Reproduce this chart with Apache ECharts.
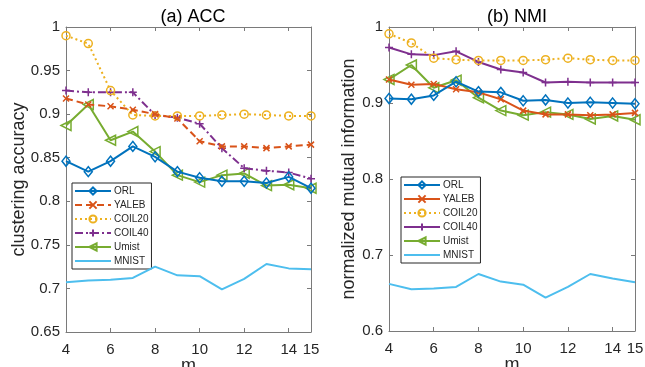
<!DOCTYPE html>
<html>
<head>
<meta charset="utf-8">
<script src="https://cdn.jsdelivr.net/npm/echarts@6/dist/echarts.min.js"></script>
<style>
  html, body { margin: 0; padding: 0; background: #fff; }
  #chart { width: 645px; height: 367px; }
</style>
</head>
<body>
<div id="chart"></div>
<script>
// m values (x axis)
const mValues = [4, 5, 6, 7, 8, 9, 10, 11, 12, 13, 14, 15];

// (a) ACC
const accORL    = [0.846, 0.834, 0.846, 0.863, 0.851, 0.834, 0.827, 0.823, 0.823, 0.821, 0.828, 0.815];
const accYALEB  = [0.918, 0.911, 0.909, 0.905, 0.900, 0.895, 0.869, 0.863, 0.863, 0.861, 0.863, 0.865];
const accCOIL20 = [0.990, 0.981, 0.927, 0.899, 0.898, 0.898, 0.898, 0.899, 0.900, 0.899, 0.898, 0.898];
const accCOIL40 = [0.927, 0.925, 0.925, 0.925, 0.899, 0.896, 0.889, 0.861, 0.838, 0.835, 0.833, 0.826];
const accUmist  = [0.887, 0.911, 0.870, 0.880, 0.857, 0.830, 0.822, 0.830, 0.832, 0.818, 0.819, 0.815];
const accMNIST  = [0.707, 0.709, 0.710, 0.712, 0.725, 0.715, 0.714, 0.699, 0.711, 0.728, 0.723, 0.722];

// (b) NMI
const nmiORL    = [0.906, 0.905, 0.910, 0.928, 0.915, 0.914, 0.903, 0.904, 0.900, 0.901, 0.900, 0.899];
const nmiYALEB  = [0.931, 0.924, 0.925, 0.918, 0.914, 0.905, 0.890, 0.885, 0.885, 0.884, 0.885, 0.887];
const nmiCOIL20 = [0.991, 0.979, 0.959, 0.957, 0.956, 0.956, 0.956, 0.957, 0.959, 0.957, 0.956, 0.956];
const nmiCOIL40 = [0.973, 0.964, 0.963, 0.968, 0.954, 0.944, 0.940, 0.927, 0.928, 0.927, 0.927, 0.927];
const nmiUmist  = [0.931, 0.950, 0.920, 0.930, 0.907, 0.890, 0.884, 0.888, 0.885, 0.879, 0.883, 0.878];
const nmiMNIST  = [0.662, 0.655, 0.656, 0.658, 0.675, 0.665, 0.661, 0.644, 0.658, 0.675, 0.669, 0.664];

const names = ['ORL', 'YALEB', 'COIL20', 'COIL40', 'Umist', 'MNIST'];
const colors = ['#0072BD', '#D95319', '#EDB120', '#7E2F8E', '#77AC30', '#4DBEEE'];

const PLUS = 'path://M0,5L10,5M5,0L5,10';
const CROSS = 'path://M0,0L10,10M0,10L10,0';

// marker per dataset
const markers = [
  { symbol: 'diamond', size: [8, 10], rotate: 0 },
  { symbol: CROSS, size: 6, rotate: 0 },
  { symbol: 'circle', size: 8, rotate: 0 },
  { symbol: PLUS, size: 8, rotate: 0 },
  { symbol: 'triangle', size: 10, rotate: 90 },
  { symbol: 'none', size: 0, rotate: 0 }
];
const accDash = ['solid', [7, 4], [2, 3], [8, 3, 2, 3], 'solid', 'solid'];
const nmiDash = ['solid', 'solid', [2, 3], 'solid', 'solid', 'solid'];

const axisColor = '#7a7a7a';
const textColor = '#262626';
const font = 'Liberation Sans, Arial, sans-serif';

function pairs(ys) { return mValues.map((m, i) => [m, ys[i]]); }

function makeSeries(lists, dashes, xi, yi) {
  return lists.map((ys, k) => ({
    name: names[k],
    type: 'line',
    xAxisIndex: xi,
    yAxisIndex: yi,
    data: pairs(ys),
    symbol: markers[k].symbol,
    symbolSize: markers[k].size,
    symbolRotate: markers[k].rotate,
    showSymbol: markers[k].symbol !== 'none',
    lineStyle: { color: colors[k], width: 2, type: dashes[k] },
    itemStyle: { color: 'rgba(255,255,255,0)', borderColor: colors[k], borderWidth: 1.5 },
    emphasis: { disabled: true },
    z: 10 - k
  }));
}

function xAxisPair(gi) {
  const base = { type: 'value', gridIndex: gi, min: 4, max: 15, interval: 2,
    splitLine: { show: false },
    axisLine: { show: true, lineStyle: { color: axisColor, width: 1 } },
    axisTick: { inside: true, length: 4, lineStyle: { color: axisColor } } };
  return [
    Object.assign({}, base, { position: 'bottom',
      name: 'm', nameLocation: 'middle', nameGap: 25, nameMoveOverlap: false,
      nameTextStyle: { color: textColor, fontSize: 18, fontFamily: font },
      axisLabel: { color: textColor, fontSize: 15, fontFamily: font, margin: 10, showMaxLabel: true, showMinLabel: true } }),
    Object.assign({}, base, { position: 'top', axisLabel: { show: false } })
  ];
}

function yAxisPair(gi, min, max, step, name, gap) {
  const base = { type: 'value', gridIndex: gi, min: min, max: max, interval: step,
    splitLine: { show: false },
    axisLine: { show: true, lineStyle: { color: axisColor, width: 1 } },
    axisTick: { inside: true, length: 4, lineStyle: { color: axisColor } } };
  return [
    Object.assign({}, base, { position: 'left',
      name: name, nameLocation: 'middle', nameGap: gap, nameMoveOverlap: false,
      nameTextStyle: { color: textColor, fontSize: 18, fontFamily: font },
      axisLabel: { color: textColor, fontSize: 15, fontFamily: font, margin: 6 } }),
    Object.assign({}, base, { position: 'right', axisLabel: { show: false } })
  ];
}

const hideMarker = { itemStyle: { color: 'rgba(0,0,0,0)', borderColor: 'rgba(0,0,0,0)', borderWidth: 0 } };

function legendFor(left, top, overrides) {
  return {
    left: left, top: top, orient: 'vertical',
    itemWidth: 36, itemHeight: 9, itemGap: 4,
    padding: [3, 3, 3, 2],
    borderColor: '#262626', borderWidth: 1, backgroundColor: '#fff',
    selectedMode: false,
    textStyle: { color: textColor, fontSize: 10, fontFamily: font, padding: [0, 0, 0, -2] },
    data: names.map((n, k) => overrides[k] ? Object.assign({ name: n }, overrides[k]) : n)
  };
}

const chart = echarts.init(document.getElementById('chart'), null, { renderer: 'canvas' });
chart.setOption({
  animation: false,
  backgroundColor: '#fff',
  title: [
    { text: '(a) ACC', left: 188, top: 3, textAlign: 'center',
      textStyle: { color: '#000', fontSize: 18, fontWeight: 'normal', fontFamily: font } },
    { text: '(b) NMI', left: 512, top: 3, textAlign: 'center',
      textStyle: { color: '#000', fontSize: 18, fontWeight: 'normal', fontFamily: font } }
  ],
  grid: [
    { left: 66, top: 27, width: 245, height: 305, outerBoundsMode: 'none' },
    { left: 389, top: 27, width: 246, height: 304, outerBoundsMode: 'none' }
  ],
  xAxis: xAxisPair(0).concat(xAxisPair(1)),
  yAxis: yAxisPair(0, 0.65, 1, 0.05, 'clustering accuracy', 38)
    .concat(yAxisPair(1, 0.6, 1, 0.1, 'normalized mutual information', 31)),
  legend: [
    legendFor(72, 183, [null, null, null, null, null, hideMarker]),
    legendFor(401, 177, [null, { lineStyle: { type: 'solid' } }, null, { lineStyle: { type: 'solid' } }, null, hideMarker])
  ],
  series: makeSeries([accORL, accYALEB, accCOIL20, accCOIL40, accUmist, accMNIST], accDash, 0, 0)
    .concat(makeSeries([nmiORL, nmiYALEB, nmiCOIL20, nmiCOIL40, nmiUmist, nmiMNIST], nmiDash, 2, 2))
});
</script>
</body>
</html>
